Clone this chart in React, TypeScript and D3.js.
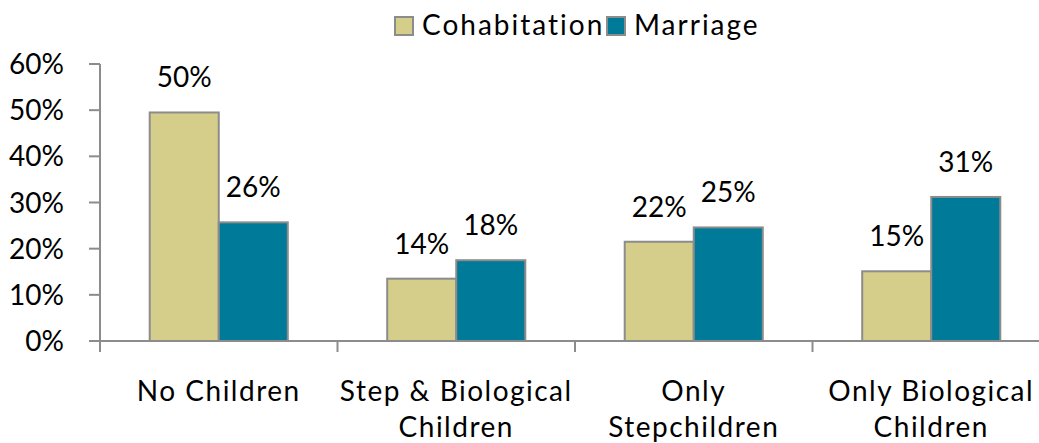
import React, { useEffect, useRef } from 'react';
import * as d3 from 'd3';

const categories = [
  ['No Children'],
  ['Step & Biological', 'Children'],
  ['Only', 'Stepchildren'],
  ['Only Biological', 'Children'],
];
const seriesNames = ['Cohabitation', 'Marriage'];
const cohabitation = [49.5, 13.5, 21.5, 15.1];
const marriage = [25.7, 17.5, 24.6, 31.2];
const yTicks = [0, 10, 20, 30, 40, 50, 60];

const colors = ['#d5cd8a', '#007a99'];
const axisColor = '#8c8c8c';
const font = 'Lato, "Open Sans", sans-serif';

const App = () => {
  const ref = useRef<SVGSVGElement>(null);

  useEffect(() => {
    const svg = d3.select(ref.current);
    svg.selectAll('*').remove();

    // the plot runs past the right edge of the picture (last tick is cut off)
    const x = d3.scaleBand<number>()
      .domain(categories.map((_, i) => i))
      .range([100, 1050])
      .padding(0);

    const inner = d3.scaleBand<string>()
      .domain(seriesNames)
      .range([0, x.bandwidth()])
      .paddingInner(0)
      .paddingOuter(0.72);

    const y = d3.scaleLinear().domain([0, 60]).range([341, 64]);

    const rows = categories.map((c, i) => ({
      i,
      values: [cohabitation[i], marriage[i]],
    }));

    // y axis
    const g = svg.append('g');
    g.append('line')
      .attr('x1', 100).attr('x2', 100)
      .attr('y1', y(60)).attr('y2', y(0))
      .attr('stroke', axisColor).attr('stroke-width', 2);
    g.selectAll('.ytick')
      .data(yTicks)
      .enter()
      .append('line')
      .attr('x1', 89).attr('x2', 100)
      .attr('y1', d => y(d)).attr('y2', d => y(d))
      .attr('stroke', axisColor).attr('stroke-width', 2);
    g.selectAll('.ylab')
      .data(yTicks)
      .enter()
      .append('text')
      .attr('x', 64)
      .attr('y', d => y(d))
      .attr('dy', '0.36em')
      .attr('text-anchor', 'end')
      .style('font-family', font)
      .style('font-size', '28px')
      .attr('fill', '#000')
      .text(d => `${d}%`);

    // bars
    const groups = svg.append('g')
      .selectAll('g')
      .data(rows)
      .enter()
      .append('g')
      .attr('transform', d => `translate(${x(d.i)},0)`);

    groups.selectAll('rect')
      .data(d => d.values.map((v, k) => ({ v, k })))
      .enter()
      .append('rect')
      .attr('x', d => inner(seriesNames[d.k]))
      .attr('y', d => y(d.v))
      .attr('width', inner.bandwidth())
      .attr('height', d => y(0) - y(d.v))
      .attr('fill', d => colors[d.k])
      .attr('stroke', axisColor)
      .attr('stroke-width', 2);

    groups.selectAll('text')
      .data(d => d.values.map((v, k) => ({ v, k })))
      .enter()
      .append('text')
      .attr('x', d => inner(seriesNames[d.k]) + inner.bandwidth() / 2)
      .attr('y', d => y(d.v) - 25)
      .attr('text-anchor', 'middle')
      .style('font-family', font)
      .style('font-size', '28px')
      .text(d => `${Math.round(d.v)}%`);

    // x axis on top of bars
    g.raise();
    svg.append('line')
      .attr('x1', 89).attr('x2', 1050)
      .attr('y1', y(0)).attr('y2', y(0))
      .attr('stroke', axisColor).attr('stroke-width', 2);
    svg.selectAll('.xtick')
      .data([...x.domain(), categories.length])
      .enter()
      .append('line')
      .attr('x1', d => 100 + d * x.step()).attr('x2', d => 100 + d * x.step())
      .attr('y1', y(0)).attr('y2', y(0) + 11)
      .attr('stroke', axisColor).attr('stroke-width', 2);

    const xl = svg.append('g')
      .selectAll('text')
      .data(categories)
      .enter()
      .append('text')
      .attr('text-anchor', 'middle')
      .style('font-family', font)
      .style('font-size', '28px')
      .style('letter-spacing', '1.5px');
    xl.selectAll('tspan')
      .data((d, i) => d.map((line, j) => ({ line, j, i })))
      .enter()
      .append('tspan')
      .attr('x', d => x(d.i) + x.bandwidth() / 2)
      .attr('y', d => 401 + d.j * 36)
      .text(d => d.line);

    // legend
    const leg = svg.append('g');
    const legX = [395, 607];
    seriesNames.forEach((name, k) => {
      leg.append('rect')
        .attr('x', legX[k]).attr('y', 17)
        .attr('width', 18).attr('height', 18)
        .attr('fill', colors[k])
        .attr('stroke', axisColor).attr('stroke-width', 2);
      leg.append('text')
        .attr('x', legX[k] + 27).attr('y', 35)
        .style('font-family', font)
        .style('font-size', '28px')
        .style('letter-spacing', '2px')
        .text(name);
    });
  }, []);

  return (
    <svg
      ref={ref}
      width={1039}
      height={443}
      style={{ position: 'absolute', left: 0, top: 0, background: '#fff' }}
    />
  );
};

export default App;
